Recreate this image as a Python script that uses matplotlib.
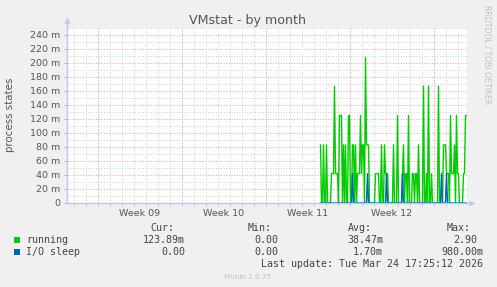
import numpy as np
import matplotlib.pyplot as plt
from matplotlib.patches import Rectangle

W, H = 497, 287

# ── data: one value per 2-hour slot (milli process counts) ──────────────────
START_HOUR = 507          # hours after left edge of graph for first sample
STEP_HOURS = 2

running = [
    83, 0, 0, 83, 0, 0, 83, 0, 0, 0,
    0, 42, 42, 42, 167, 42, 42, 42, 0, 125,
    125, 125, 0, 83, 0, 83, 0, 0, 125, 125,
    0, 0, 83, 83, 0, 83, 0, 42, 42, 42,
    125, 42, 83, 83, 0, 208, 83, 83, 83, 0,
    0, 0, 0, 0, 0, 42, 42, 42, 42, 0,
    0, 83, 0, 0, 83, 42, 42, 42, 0, 0,
    0, 0, 0, 83, 0, 0, 0, 125, 0, 0,
    0, 0, 42, 83, 0, 42, 42, 0, 125, 0,
    0, 0, 42, 42, 0, 42, 42, 0, 83, 0,
    0, 0, 0, 167, 0, 0, 42, 0, 167, 0,
    0, 42, 0, 0, 0, 0, 0, 0, 167, 0,
    0, 0, 0, 83, 83, 83, 42, 42, 42, 0,
    125, 42, 42, 42, 83, 0, 125, 42, 42, 0,
    0, 0, 0, 42, 42, 125, 125,
]
io_sleep = [
    0, 0, 0, 0, 0, 0, 0, 0, 0, 0,
    0, 0, 0, 0, 0, 0, 0, 0, 0, 0,
    0, 0, 0, 0, 0, 0, 0, 0, 0, 0,
    0, 0, 42, 0, 0, 0, 0, 0, 0, 0,
    0, 0, 0, 0, 0, 0, 0, 42, 0, 0,
    0, 0, 0, 0, 0, 0, 0, 0, 0, 0,
    0, 0, 0, 0, 0, 0, 42, 0, 0, 0,
    0, 0, 0, 0, 0, 0, 0, 0, 0, 0,
    0, 0, 42, 0, 0, 0, 0, 0, 0, 0,
    0, 0, 0, 0, 0, 0, 0, 0, 0, 0,
    0, 0, 0, 0, 0, 0, 0, 0, 0, 0,
    0, 0, 0, 0, 0, 0, 0, 0, 0, 0,
    0, 42, 0, 0, 0, 0, 42, 0, 0, 0,
    0, 0, 0, 0, 0, 0, 0, 0, 0, 0,
    0, 0, 0, 0, 0, 0, 0,
]

week_labels = ["Week 09", "Week 10", "Week 11", "Week 12"]
first_week = 61           # hour of first week boundary
span_hours = 800
y_max = 250

legend_names = ["running", "I/O sleep"]
legend_colors = ["#00CC00", "#0066B3"]
cur = ["123.89m", "0.00"]
mins = ["0.00", "0.00"]
avgs = ["38.47m", "1.70m"]
maxs = ["2.90", "980.00m"]

# ── figure ────────────────────────────────────────────────────────────────
fig = plt.figure(figsize=(W / 100, H / 100), dpi=100, facecolor="#F0F0F0")
ax = fig.add_axes([67 / W, (H - 203) / H, 400 / W, 175 / H])
ax.set_facecolor("white")
ax.set_xlim(0, span_hours)
ax.set_ylim(0, y_max)

GRID = "#d4d4d4"
MAJOR = "#e8a8a8"
AXIS = "#c4c4f0"
dots = (0, (1, 1.5))

for v in range(10, y_max + 1, 10):
    ax.axhline(v, color=MAJOR if v % 20 == 0 and v < y_max else GRID,
               lw=0.75, ls=dots, zorder=0)
days = np.arange(first_week - 48, span_hours, 24)
weeks = np.arange(first_week, span_hours, 168)
for d in days:
    ax.axvline(d, color=GRID, lw=0.75, ls=dots, zorder=0)
for w in weeks:
    ax.axvline(w, color=MAJOR, lw=0.75, ls=dots, zorder=0)

t = START_HOUR + STEP_HOURS * np.arange(len(running))
ax.plot(t, running, color=legend_colors[0], lw=1.0, zorder=3)
ax.plot(t, io_sleep, color=legend_colors[1], lw=1.0, zorder=4)

# axes
for s in ["top", "right"]:
    ax.spines[s].set_visible(False)
for s in ["left", "bottom"]:
    ax.spines[s].set_color(AXIS)
    ax.spines[s].set_linewidth(1.0)
    ax.spines[s].set_zorder(6)
ax.plot([1, 1.008], [0, 0], color=AXIS, lw=1.0, transform=ax.transAxes, clip_on=False)
ax.plot([0, 0], [1, 1.03], color=AXIS, lw=1.0, transform=ax.transAxes, clip_on=False)
ax.plot(1.012, 0, marker=">", ms=5, color=AXIS, mec="none",
        transform=ax.transAxes, clip_on=False)
ax.plot(0, 1.045, marker="^", ms=5, color=AXIS, mec="none",
        transform=ax.transAxes, clip_on=False)

yt = list(range(0, 241, 20))
ax.set_yticks(yt)
ax.set_yticklabels(["0"] + [f"{v} m" for v in yt[1:]])
ax.tick_params(axis="y", length=2.5, width=0.7, color="#b0b0b0", pad=2.5,
               labelsize=6.8, labelcolor="#555555")
ax.set_xticks(first_week + 84 + 168 * np.arange(len(week_labels)))
ax.set_xticklabels(week_labels)
ax.set_xticks(days, minor=True)
ax.tick_params(axis="x", which="major", length=0, pad=4.5,
               labelsize=6.8, labelcolor="#555555")
ax.tick_params(axis="x", which="minor", length=2, width=0.7, color="#c8c8c8")

# ── text ─────────────────────────────────────────────────────────────────
def ftext(x, y, s, **kw):
    fig.text(x / W, 1 - y / H, s, **kw)

ftext(247.5, 24, "VMstat - by month", ha="center", va="baseline",
      fontsize=9.1, color="#555555")
ftext(10, 115, "process states", ha="center", va="center", rotation=90,
      fontsize=7.4, color="#555555")
ftext(487, 5, "RRDTOOL / TOBI OETIKER", ha="center", va="top", rotation=270,
      fontsize=5.6, color="#c0c0c0")

mono = dict(family="DejaVu Sans Mono", fontsize=7.2, color="#444444", va="baseline")
ftext(150, 230.7, "Cur:", **mono)
ftext(248, 230.7, "Min:", **mono)
ftext(348, 230.7, "Avg:", **mono)
ftext(447, 230.7, "Max:", **mono)
rows_y = [243.3, 255]
for i, name in enumerate(legend_names):
    y = rows_y[i]
    fig.patches.append(Rectangle((14 / W, 1 - (y - 0.5) / H), 6 / W, 6 / H,
                                 transform=fig.transFigure,
                                 facecolor=legend_colors[i], edgecolor="none"))
    ftext(26.5, y, name, **mono)
    ftext(185, y, cur[i], ha="right", **mono)
    ftext(278, y, mins[i], ha="right", **mono)
    ftext(383, y, avgs[i], ha="right", **mono)
    ftext(477 if i == 0 else 483, y, maxs[i], ha="right", **mono)

ftext(483, 266.7, "Last update: Tue Mar 24 17:25:12 2026", ha="right", **mono)
ftext(248, 278.7, "Munin 2.0.75", ha="center", va="baseline",
      fontsize=5.2, color="#c0c0c0")

fig.savefig("out.png", dpi=100, facecolor=fig.get_facecolor())
